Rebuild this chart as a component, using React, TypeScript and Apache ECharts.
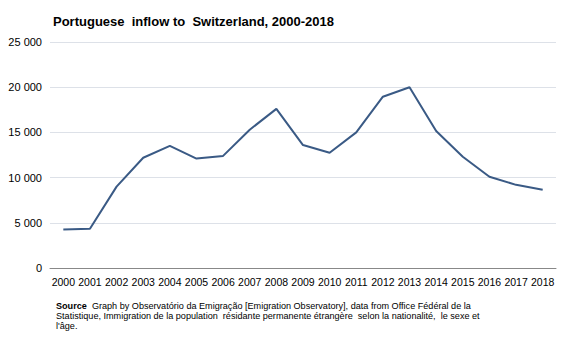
import React, { useEffect, useRef } from "react";
import * as echarts from "echarts";

const years = ["2000","2001","2002","2003","2004","2005","2006","2007","2008","2009","2010","2011","2012","2013","2014","2015","2016","2017","2018"];
const inflow = [4250, 4350, 9000, 12200, 13500, 12100, 12400, 15300, 17600, 13600, 12750, 15000, 18950, 20000, 15150, 12300, 10100, 9200, 8650];
const titleText = "Portuguese  inflow to  Switzerland, 2000-2018";
const sourceLines = [
  "{b|Source}  Graph by Observatório da Emigração [Emigration Observatory], data from Office Fédéral de la",
  "Statistique, Immigration de la population  résidante permanente étrangère  selon la nationalité,  le sexe et",
  "l'âge."
];

const fmt = (v: number) => {
  const s = String(v);
  return s.length > 3 ? s.slice(0, s.length - 3) + " " + s.slice(-3) : s;
};

export default function App() {
  const ref = useRef<HTMLDivElement>(null);
  useEffect(() => {
    if (!ref.current) return;
    const chart = echarts.init(ref.current, undefined, { renderer: "svg" });
    chart.setOption({
      animation: false,
      backgroundColor: "#ffffff",
      title: [
        {
          text: titleText,
          left: 48,
          top: 10,
          textStyle: { fontFamily: "Arial, Liberation Sans", fontSize: 13, fontWeight: "bold", color: "#000" }
        },
        {
          text: sourceLines.join("\n"),
          left: 51,
          top: 296,
          textStyle: {
            fontFamily: "Arial, Liberation Sans",
            fontSize: 9.1,
            fontWeight: "normal",
            color: "#000",
            lineHeight: 10,
            rich: { b: { fontWeight: "bold", fontSize: 9.1, fontFamily: "Arial, Liberation Sans", lineHeight: 10 } }
          }
        }
      ],
      grid: { left: 50, right: 11, top: 42, bottom: 72, containLabel: false },
      xAxis: {
        type: "category",
        data: years,
        boundaryGap: true,
        axisLine: { lineStyle: { color: "#888888", width: 1 } },
        axisTick: { show: false },
        axisLabel: { interval: 0, color: "#000", fontFamily: "Arial, Liberation Sans", fontSize: 10.5, margin: 8 }
      },
      yAxis: {
        type: "value",
        min: 0,
        max: 25000,
        interval: 5000,
        axisLine: { show: false },
        axisTick: { show: false },
        splitLine: { lineStyle: { color: "#dde1e8", width: 1 } },
        axisLabel: { color: "#000", fontFamily: "Arial, Liberation Sans", fontSize: 11, margin: 8, formatter: (v: number) => fmt(v) }
      },
      series: [
        {
          type: "line",
          data: inflow,
          symbol: "none",
          lineStyle: { color: "#3a5a85", width: 2 },
          z: 3
        }
      ]
    });
    return () => chart.dispose();
  }, []);
  return <div ref={ref} style={{ width: 567, height: 340, position: "absolute", left: 0, top: 0 }} />;
}
